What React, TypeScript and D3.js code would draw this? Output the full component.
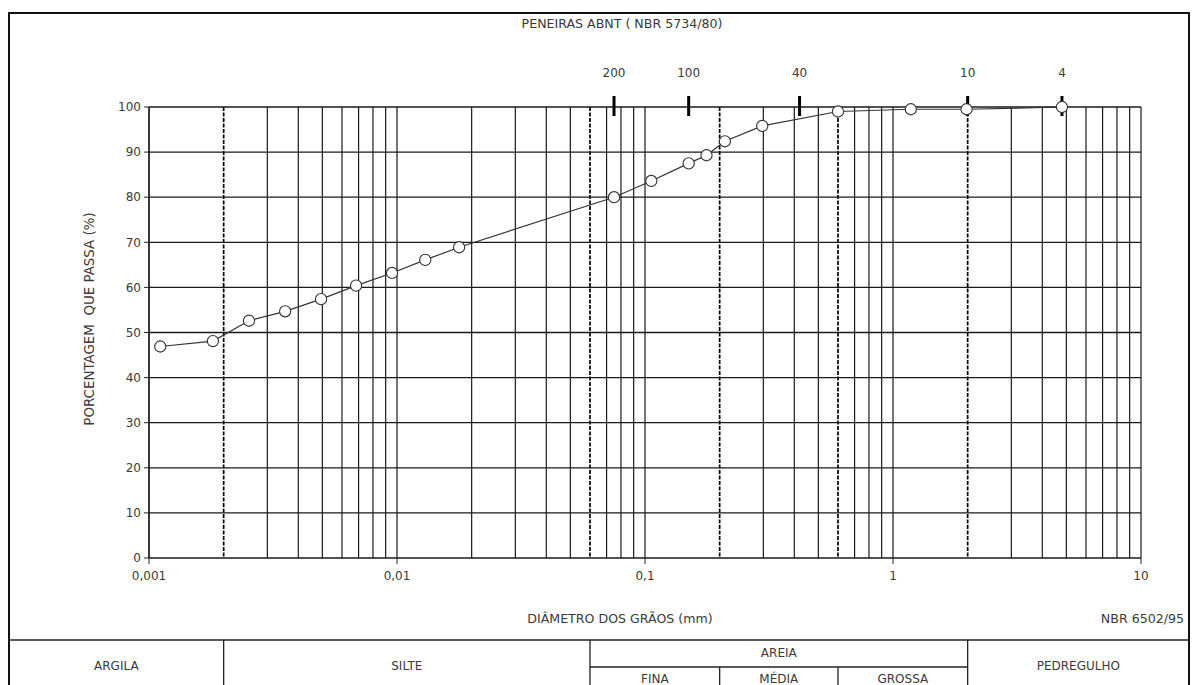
import React from "react";
import * as d3 from "d3";

// dados da curva granulométrica
const diametros = [
  0.00111, 0.00181, 0.00253, 0.00354, 0.00494, 0.00684, 0.00955, 0.013, 0.0178,
  0.075, 0.106, 0.15, 0.177, 0.21, 0.297, 0.6, 1.18, 1.98, 4.8,
];
const passante = [
  46.9, 48.1, 52.6, 54.7, 57.4, 60.4, 63.2, 66.1, 68.9,
  80.0, 83.6, 87.5, 89.3, 92.4, 95.8, 99.0, 99.5, 99.5, 100,
];

// peneiras ABNT
const peneiras = ["200", "100", "40", "10", "4"];
const aberturas = [0.075, 0.15, 0.42, 2.0, 4.8];

const yTicks = [0, 10, 20, 30, 40, 50, 60, 70, 80, 90, 100];
const xDecadas = [0.001, 0.01, 0.1, 1, 10];
const xLabels = ["0,001", "0,01", "0,1", "1", "10"];

// limites das frações (NBR 6502/95) — linhas tracejadas
const limites = [0.002, 0.06, 0.2, 0.6, 2.0];

const W = 1197;
const H = 685;
const FONT = "'DejaVu Sans', sans-serif";
const TXT = "#3a3a3a";
const FS = 12;
const FS_TIT = 12.6;

const x = d3.scaleLog().domain([0.001, 10]).range([149, 1141]);
const y = d3.scaleLinear().domain([0, 100]).range([558, 107]);

// linhas verticais da grade: 1..9 de cada década
const gradeX: number[] = [];
[0.001, 0.01, 0.1, 1].forEach((dec) => {
  for (let k = 1; k <= 9; k++) {
    gradeX.push(+(dec * k).toPrecision(3));
  }
});
gradeX.push(10);

const ehLimite = (v: number) => limites.some((l) => Math.abs(l - v) < 1e-9);

const pontos = diametros.map((d, i) => [d, passante[i]] as [number, number]);
const linha = d3
  .line<[number, number]>()
  .x((d) => x(d[0]))
  .y((d) => y(d[1]));

export default function App() {
  const left = 9;
  const right = 1189;
  const top = 13;
  const tabTop = 640;
  const tabMid = 667;

  const colunas = [
    { nome: "ARGILA", a: left, b: x(0.002) },
    { nome: "SILTE", a: x(0.002), b: x(0.06) },
    { nome: "PEDREGULHO", a: x(2.0), b: right },
  ];
  const areia = [
    { nome: "FINA", a: x(0.06), b: x(0.2) },
    { nome: "MÉDIA", a: x(0.2), b: x(0.6) },
    { nome: "GROSSA", a: x(0.6), b: x(2.0) },
  ];

  return (
    <svg
      width={W}
      height={H}
      style={{ position: "absolute", left: 0, top: 0, background: "#fff" }}
      fontFamily={FONT}
    >
      {/* moldura */}
      <path
        d={`M${left},${H + 5}V${top}H${right}V${H + 5}`}
        fill="none"
        stroke="#111"
        strokeWidth={2}
      />

      <text x={622} y={28} textAnchor="middle" fontSize={FS_TIT} fill={TXT}>
        PENEIRAS ABNT ( NBR 5734/80)
      </text>

      {/* grade vertical */}
      {gradeX.map((v, i) =>
        ehLimite(v) ? null : (
          <line
            key={"gx" + i}
            x1={x(v)}
            x2={x(v)}
            y1={y(100)}
            y2={y(0)}
            stroke="#1a1a1a"
            strokeWidth={1.2}
          />
        )
      )}
      {limites.map((v, i) => (
        <line
          key={"lim" + i}
          x1={x(v)}
          x2={x(v)}
          y1={y(100)}
          y2={y(0)}
          stroke="#000"
          strokeWidth={1.7}
          strokeDasharray="4,1.5"
        />
      ))}

      {/* grade horizontal */}
      {yTicks.map((t) => (
        <g key={"gy" + t}>
          <line x1={x(0.001)} x2={x(10)} y1={y(t)} y2={y(t)} stroke="#1a1a1a" strokeWidth={1.3} />
          <line x1={x(0.001) - 5} x2={x(0.001)} y1={y(t)} y2={y(t)} stroke="#222" />
          <text
            x={x(0.001) - 8}
            y={y(t)}
            dy="0.35em"
            textAnchor="end"
            fontSize={FS}
            fill={TXT}
          >
            {t}
          </text>
        </g>
      ))}

      {/* eixo x */}
      <line x1={x(0.001)} x2={x(0.001)} y1={y(100)} y2={y(0)} stroke="#1a1a1a" strokeWidth={1.3} />
      {xDecadas.map((v, i) => (
        <g key={"xd" + i}>
          <line x1={x(v)} x2={x(v)} y1={y(0)} y2={y(0) + 6} stroke="#222" />
          <text x={x(v)} y={y(0) + 22} textAnchor="middle" fontSize={FS} fill={TXT}>
            {xLabels[i]}
          </text>
        </g>
      ))}

      {/* peneiras */}
      {aberturas.map((a, i) => (
        <g key={"pen" + i}>
          <line x1={x(a)} x2={x(a)} y1={96} y2={116} stroke="#000" strokeWidth={3} />
          <text x={x(a)} y={77} textAnchor="middle" fontSize={FS} fill={TXT}>
            {peneiras[i]}
          </text>
        </g>
      ))}

      {/* curva */}
      <path d={linha(pontos) ?? ""} fill="none" stroke="#333" strokeWidth={1.2} />
      {pontos.map((p, i) => (
        <circle
          key={"pt" + i}
          cx={x(p[0])}
          cy={y(p[1])}
          r={5.6}
          fill="#fff"
          stroke="#333"
          strokeWidth={1.1}
        />
      ))}

      {/* títulos dos eixos */}
      <text
        transform="translate(94,319) rotate(-90)"
        textAnchor="middle"
        fontSize={13.4}
        fill={TXT}
        style={{ whiteSpace: "pre" }}
      >
        {"PORCENTAGEM  QUE PASSA (%)"}
      </text>
      <text x={620} y={623} textAnchor="middle" fontSize={FS_TIT} fill={TXT}>
        DIÂMETRO DOS GRÃOS (mm)
      </text>
      <text x={1184} y={623} textAnchor="end" fontSize={FS_TIT} fill={TXT}>
        NBR 6502/95
      </text>

      {/* tabela de classificação */}
      <line x1={left} x2={right} y1={tabTop} y2={tabTop} stroke="#222" strokeWidth={1.3} />
      <line x1={x(0.06)} x2={x(2.0)} y1={tabMid} y2={tabMid} stroke="#222" strokeWidth={1.3} />
      {[0.002, 0.06, 2.0].map((v) => (
        <line key={"tv" + v} x1={x(v)} x2={x(v)} y1={tabTop} y2={H} stroke="#222" strokeWidth={1.3} />
      ))}
      {[0.2, 0.6].map((v) => (
        <line key={"tm" + v} x1={x(v)} x2={x(v)} y1={tabMid} y2={H} stroke="#222" strokeWidth={1.3} />
      ))}
      {colunas.map((c) => (
        <text
          key={c.nome}
          x={(c.a + c.b) / 2}
          y={666}
          dy="0.35em"
          textAnchor="middle"
          fontSize={FS}
          fill={TXT}
        >
          {c.nome}
        </text>
      ))}
      <text
        x={(x(0.06) + x(2.0)) / 2}
        y={653}
        dy="0.35em"
        textAnchor="middle"
        fontSize={FS}
        fill={TXT}
      >
        AREIA
      </text>
      {areia.map((c) => (
        <text
          key={c.nome}
          x={(c.a + c.b) / 2}
          y={683}
          textAnchor="middle"
          fontSize={FS}
          fill={TXT}
        >
          {c.nome}
        </text>
      ))}
    </svg>
  );
}
